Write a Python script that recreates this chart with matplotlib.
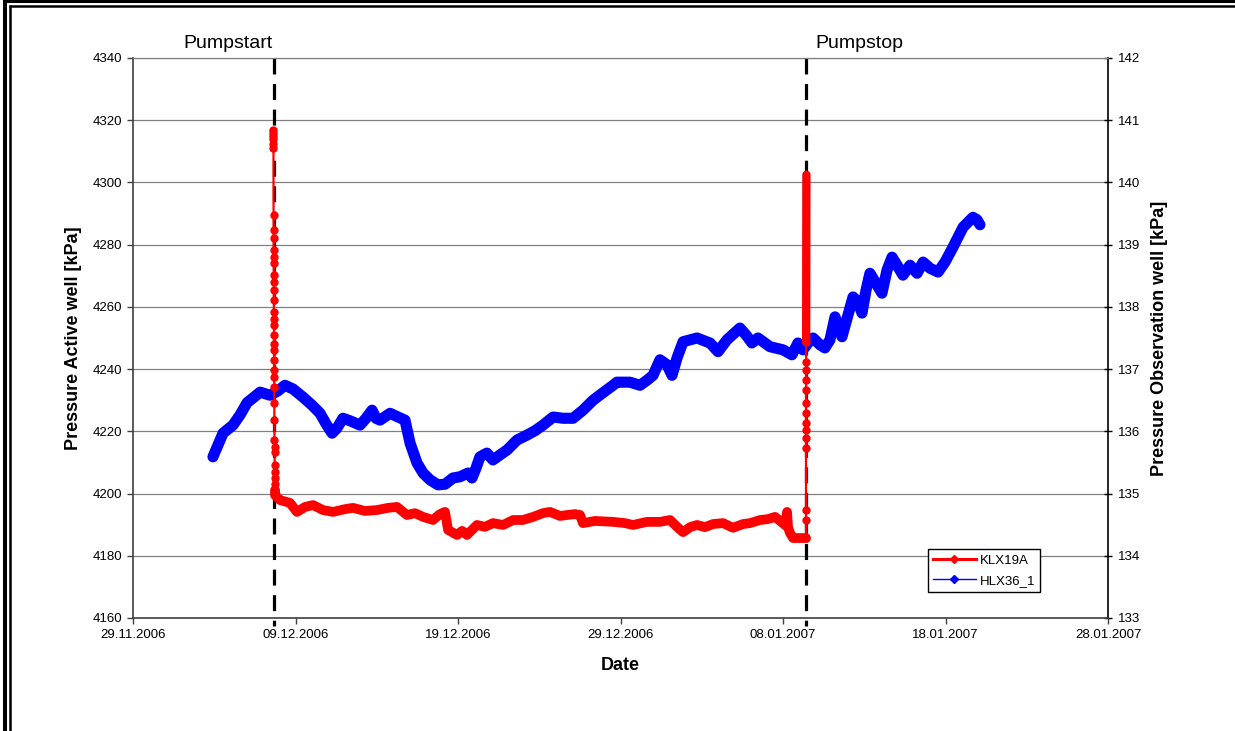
import numpy as np
import pandas as pd
import matplotlib
matplotlib.use("Agg")
import matplotlib.pyplot as plt
from matplotlib.lines import Line2D

plt.rcParams["font.family"] = ["Liberation Sans", "DejaVu Sans"]

# ------------------------------------------------------------
# Logger data, time given as days after 29.11.2006 00:00
# ------------------------------------------------------------
t0 = pd.Timestamp("2006-11-29")

pump_start_day = 8.65
pump_stop_day = 41.40

# KLX19A (pumped borehole) - drawdown right after pump start
klx_draw_day = [8.640, 8.641, 8.642, 8.643, 8.644, 8.645, 8.650, 8.652, 8.654,
                8.656, 8.658, 8.660, 8.662, 8.664, 8.666, 8.668, 8.670, 8.672,
                8.674, 8.676, 8.678, 8.680, 8.683, 8.686, 8.689, 8.692, 8.696,
                8.700, 8.705, 8.710, 8.715, 8.720, 8.725, 8.730, 8.735, 8.740]
klx_draw_kpa = [4317.0, 4316.0, 4315.0, 4314.0, 4312.5, 4311.0, 4289.5, 4284.7,
                4282.1, 4278.3, 4276.0, 4274.1, 4270.3, 4268.0, 4265.4, 4262.2,
                4258.4, 4256.0, 4254.2, 4251.0, 4248.0, 4246.2, 4243.0, 4239.8,
                4237.5, 4234.3, 4229.2, 4223.7, 4217.2, 4215.0, 4213.2, 4209.3,
                4207.0, 4205.0, 4203.0, 4201.1]

# KLX19A - pumping period
klx_pump_day = [8.74, 9.05, 9.66, 10.09, 10.59, 11.08, 11.69, 12.31, 13.05, 13.54,
                14.28, 15.02, 15.69, 16.25, 16.86, 17.35, 17.85, 18.46, 18.89,
                19.20, 19.39, 19.94, 20.25, 20.55, 21.17, 21.66, 22.15, 22.77,
                23.39, 24.00, 24.62, 25.23, 25.66, 26.28, 26.71, 27.20, 27.51,
                27.69, 28.43, 29.54, 30.28, 30.77, 31.63, 32.43, 33.05, 33.54,
                33.85, 34.28, 34.71, 35.20, 35.69, 36.31, 36.92, 37.54, 37.97,
                38.59, 39.08, 39.51, 39.82, 40.12, 40.25, 40.31, 40.43, 40.62,
                41.05, 41.41]
klx_pump_kpa = [4199.5, 4197.9, 4197.0, 4194.1, 4195.7, 4196.3, 4194.7, 4194.1,
                4195.0, 4195.4, 4194.4, 4194.7, 4195.4, 4195.7, 4193.1, 4193.7,
                4192.5, 4191.5, 4193.4, 4194.1, 4188.3, 4186.7, 4188.0, 4186.7,
                4189.9, 4189.3, 4190.5, 4189.9, 4191.5, 4191.5, 4192.5, 4193.7,
                4194.1, 4192.8, 4193.1, 4193.4, 4193.1, 4190.5, 4191.2, 4190.9,
                4190.5, 4189.9, 4190.9, 4190.9, 4191.5, 4189.0, 4187.6, 4189.2,
                4189.9, 4189.2, 4190.2, 4190.5, 4189.0, 4190.2, 4190.5, 4191.5,
                4191.8, 4192.5, 4191.2, 4189.9, 4194.1, 4189.2, 4187.3, 4185.7,
                4185.7, 4185.7]

# KLX19A - recovery after pump stop (sparse readings, then dense)
klx_rec_day = [41.412, 41.413, 41.414, 41.415, 41.416, 41.417, 41.418, 41.419,
               41.420, 41.421, 41.422, 41.423, 41.424, 41.425]
klx_rec_kpa = [4185.7, 4191.5, 4194.7, 4214.6, 4217.9, 4220.4, 4222.7, 4225.9,
               4229.1, 4233.3, 4236.5, 4239.8, 4242.3, 4248.7]
klx_rec2_day = [41.425, 41.427, 41.429, 41.431, 41.433, 41.435, 41.437, 41.439,
                41.441]
klx_rec2_kpa = [4248.7, 4256.0, 4264.0, 4272.0, 4280.0, 4288.0, 4295.0, 4300.0,
                4302.5]

# HLX36_1 (observation borehole)
hlx_day = [4.92, 5.23, 5.54, 6.15, 6.58, 7.02, 7.45, 7.82, 8.43, 8.92, 9.35, 9.85,
           10.46, 11.02, 11.51, 11.88, 12.25, 12.55, 12.92, 13.35, 13.97, 14.34,
           14.71, 14.95, 15.20, 15.82, 16.31, 16.74, 17.05, 17.48, 17.85, 18.28,
           18.77, 19.20, 19.69, 20.12, 20.62, 20.86, 21.11, 21.35, 21.78, 22.15,
           22.58, 23.02, 23.63, 24.25, 24.74, 25.23, 25.85, 26.46, 27.08, 27.69,
           28.31, 28.92, 29.54, 29.78, 30.58, 31.20, 31.63, 32.00, 32.43, 32.86,
           33.17, 33.48, 33.85, 34.28, 34.71, 35.20, 35.51, 36.00, 36.55, 37.35,
           37.72, 38.09, 38.46, 39.20, 40.00, 40.55, 40.92, 41.23, 41.54, 41.85,
           42.28, 42.58, 42.89, 43.20, 43.63, 44.00, 44.31, 44.62, 44.86, 45.11,
           45.35, 45.72, 46.09, 46.40, 46.71, 47.02, 47.38, 47.82, 48.25, 48.62,
           49.05, 49.54, 49.97, 50.46, 50.77, 51.08, 51.38, 51.69, 51.94, 52.12]
hlx_kpa = [135.59, 135.78, 135.97, 136.10, 136.26, 136.46, 136.55, 136.63, 136.58,
           136.65, 136.74, 136.68, 136.55, 136.42, 136.29, 136.12, 135.97, 136.05,
           136.21, 136.17, 136.10, 136.21, 136.34, 136.21, 136.18, 136.29, 136.23,
           136.18, 135.81, 135.49, 135.33, 135.22, 135.14, 135.15, 135.25, 135.27,
           135.33, 135.25, 135.41, 135.59, 135.65, 135.54, 135.62, 135.70, 135.86,
           135.94, 136.01, 136.10, 136.23, 136.21, 136.21, 136.34, 136.50, 136.62,
           136.74, 136.79, 136.79, 136.74, 136.82, 136.90, 137.15, 137.07, 136.90,
           137.18, 137.44, 137.47, 137.50, 137.45, 137.42, 137.28, 137.47, 137.66,
           137.55, 137.42, 137.50, 137.36, 137.31, 137.23, 137.42, 137.31, 137.42,
           137.50, 137.39, 137.34, 137.47, 137.84, 137.52, 137.87, 138.16, 138.08,
           137.90, 138.27, 138.54, 138.38, 138.22, 138.59, 138.80, 138.67, 138.51,
           138.67, 138.54, 138.72, 138.62, 138.56, 138.72, 138.96, 139.12, 139.28,
           139.36, 139.44, 139.40, 139.32]

tick_labels = ["29.11.2006", "09.12.2006", "19.12.2006", "29.12.2006",
               "08.01.2007", "18.01.2007", "28.01.2007"]
left_ticks = [4160, 4180, 4200, 4220, 4240, 4260, 4280, 4300, 4320, 4340]
right_ticks = [133, 134, 135, 136, 137, 138, 139, 140, 141, 142]


def to_time(days):
    return t0 + pd.to_timedelta(np.asarray(days), unit="D")


tick_dates = pd.to_datetime(tick_labels, format="%d.%m.%Y")

# ------------------------------------------------------------
# Figure
# ------------------------------------------------------------
W, H = 1235, 731
fig = plt.figure(figsize=(W / 100, H / 100), dpi=100)
ax = fig.add_axes([133 / W, 1 - 618 / H, 975 / W, 560 / H])
ax2 = ax.twinx()

# observation well on the right axis, kept underneath the pumped well
ax.set_zorder(ax2.get_zorder() + 1)
ax.patch.set_visible(False)

ax2.plot(to_time(hlx_day), hlx_kpa, color="#0000ff", lw=8,
         solid_joinstyle="round", solid_capstyle="round", zorder=3)
ax2.set_ylim(right_ticks[0], right_ticks[-1])
ax2.set_yticks(right_ticks)
ax2.grid(axis="y", color="#808080", lw=0.9)
ax2.set_axisbelow(True)

# pump start / stop markers
for d in (pump_start_day, pump_stop_day):
    tt = to_time([d, d])
    ax.plot(tt, [4340, 4157.3], color="black", lw=2.3, dashes=(5, 3),
            clip_on=False, zorder=1)

# KLX19A
red = "#ff0000"
ax.plot(to_time(klx_draw_day), klx_draw_kpa, color=red, lw=1.6, marker="o",
        ms=5, mec=red, zorder=3)
ax.plot(to_time([klx_draw_day[-1]] + klx_pump_day),
        [klx_draw_kpa[-1]] + klx_pump_kpa, color=red, lw=7,
        solid_joinstyle="round", solid_capstyle="round", zorder=3)
ax.plot(to_time(klx_rec_day), klx_rec_kpa, color=red, lw=1.6, marker="o",
        ms=5, mec=red, zorder=3)
ax.plot(to_time(klx_rec2_day), klx_rec2_kpa, color=red, lw=6,
        solid_capstyle="round", zorder=3)

ax.set_ylim(left_ticks[0], left_ticks[-1])
ax.set_yticks(left_ticks)
ax.set_xlim(tick_dates[0], tick_dates[-1])
ax.set_xticks(tick_dates)
ax.set_xticklabels(tick_labels)

# axis styling
for s in ("left", "bottom"):
    ax.spines[s].set_color("#404040")
    ax.spines[s].set_linewidth(1.2)
ax.spines["top"].set_color("#808080")
ax.spines["top"].set_linewidth(0.9)
ax.spines["right"].set_visible(False)
for s in ("left", "bottom", "top"):
    ax2.spines[s].set_visible(False)
ax2.spines["right"].set_color("black")
ax2.spines["right"].set_linewidth(1.2)

ax.tick_params(axis="y", direction="out", length=4, width=1, color="#404040",
               labelsize=9.5, pad=4)
ax.tick_params(axis="x", direction="out", length=4, width=1, color="#404040",
               labelsize=9.5, pad=4)
ax2.tick_params(axis="y", direction="inout", length=6, width=1, color="black",
                labelsize=9.5, pad=4)

ax.set_ylabel("Pressure Active well [kPa]", fontsize=13, fontweight="bold",
              va="center", ha="center")
ax.yaxis.set_label_coords((73 - 133) / 975, 0.5)
ax2.set_ylabel("Pressure Observation well [kPa]", fontsize=13,
               fontweight="bold", va="center", ha="center", rotation=90)
ax2.yaxis.set_label_coords((1160 - 133) / 975, 0.5)
ax.set_xlabel("Date", fontsize=13, fontweight="bold", va="center")
ax.xaxis.set_label_coords(0.5, (618 - 666) / 560)

fig.text(183 / W, 1 - 48 / H, "Pumpstart", fontsize=14, va="baseline")
fig.text(815 / W, 1 - 48 / H, "Pumpstop", fontsize=14, va="baseline")

# legend
handles = [
    Line2D([], [], color=red, lw=2.2, marker="D", ms=4.5),
    Line2D([], [], color="#0000ff", lw=1, marker="D", ms=4.5),
]
leg = ax2.legend(handles, ["KLX19A", "HLX36_1"], loc="lower left",
                 bbox_to_anchor=((928 - 133) / 975, (618 - 592) / 560),
                 borderaxespad=0, frameon=True, fancybox=False,
                 edgecolor="black", framealpha=1, fontsize=9.5,
                 handlelength=3.2, handletextpad=0.3, labelspacing=0.6,
                 borderpad=0.4)
leg.get_frame().set_linewidth(1)
leg.set_zorder(10)

# page frame (double rule on top and left)
def frame_line(x, y, lw):
    fig.add_artist(Line2D(np.asarray(x) / W, 1 - np.asarray(y) / H,
                          color="black", lw=lw, solid_capstyle="butt"))

frame_line([3, W], [1.4, 1.4], 2.2)
frame_line([9, W], [6, 6], 1.8)
frame_line([5.3, 5.3], [0, H], 2.9)
frame_line([10.4, 10.4], [5, H], 1.8)

fig.savefig("out.png", dpi=100)
